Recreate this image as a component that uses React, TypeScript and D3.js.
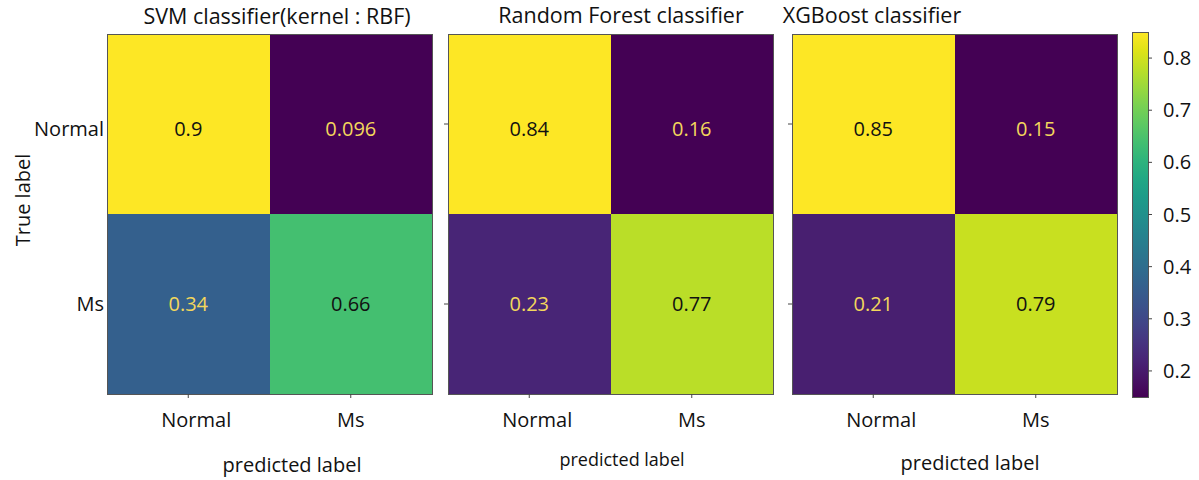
import React from "react";
import * as d3 from "d3";

// Confusion matrices (row = true label, column = predicted label)
const classes = ["Normal", "Ms"];
const modelTitles = ["SVM classifier(kernel : RBF)", "Random Forest classifier", "XGBoost classifier"];
const svmValues = [
  [0.9, 0.096],
  [0.34, 0.66],
];
const rfValues = [
  [0.84, 0.16],
  [0.23, 0.77],
];
const xgbValues = [
  [0.85, 0.15],
  [0.21, 0.79],
];
const colorbarTicks = [0.2, 0.3, 0.4, 0.5, 0.6, 0.7, 0.8];
const xAxisTitle = "predicted label";
const yAxisTitle = "True label";

const matrices = [svmValues, rfValues, xgbValues];

// Layout
const W = 1199;
const H = 480;
const panelLeft = [107, 448, 792];
const panelW = 325;
const top = 34;
const panelH = 360;
const titleX = [277, 621, 872];
const titleY = [24, 23, 23];
const titleSize = 21.5;
const xTitleX = [292, 622, 970];
const xTitleY = [472, 466, 470];
const xTitleSize = [20, 18, 20];
const font = "'Open Sans', 'Noto Sans', sans-serif";
const cb = { x: 1132, w: 16, top: 32, bottom: 397 };

function Panel({ idx }: { idx: number }) {
  const values = matrices[idx];
  const flat = values.flat();
  const color = d3
    .scaleSequential(d3.interpolateViridis)
    .domain([d3.min(flat) as number, d3.max(flat) as number]);
  const x0 = panelLeft[idx];
  const xs = d3.scaleBand<string>().domain(classes).range([x0, x0 + panelW]);
  const ys = d3.scaleBand<string>().domain(classes).range([top, top + panelH]);
  const [lo, hi] = color.domain();
  const mid = (lo + hi) / 2;
  // the upper row's text sits a little below the cell centre
  const rowShift = [5, 0];

  return (
    <g>
      {classes.map((tr, i) =>
        classes.map((pr, j) => {
          const v = values[i][j];
          return (
            <g key={`${i}-${j}`}>
              <rect
                x={xs(pr)}
                y={ys(tr)}
                width={xs.bandwidth()}
                height={ys.bandwidth()}
                fill={color(v)}
                shapeRendering="crispEdges"
              />
              <text
                x={(xs(pr) as number) + xs.bandwidth() / 2}
                y={(ys(tr) as number) + ys.bandwidth() / 2 + rowShift[i]}
                dy="0.35em"
                textAnchor="middle"
                fontFamily={font}
                fontSize={20}
                fill={v < mid ? "#f3d75c" : "#111"}
              >
                {String(v)}
              </text>
            </g>
          );
        })
      )}
      <rect
        x={x0}
        y={top}
        width={panelW}
        height={panelH}
        fill="none"
        stroke="#555"
        strokeWidth={1}
        shapeRendering="crispEdges"
      />
      {/* x ticks */}
      {classes.map((c) => {
        const cx = (xs(c) as number) + xs.bandwidth() / 2;
        return (
          <g key={"xt" + c}>
            <line x1={cx} x2={cx} y1={top + panelH} y2={top + panelH + 4} stroke="#444" />
            <text
              x={cx + (c === "Normal" ? 8 : 0)}
              y={top + panelH + 33}
              textAnchor="middle"
              fontFamily={font}
              fontSize={20}
              fill="#111"
            >
              {c}
            </text>
          </g>
        );
      })}
      {/* y ticks */}
      {classes.map((c, i) => {
        const cy = (ys(c) as number) + ys.bandwidth() / 2 + rowShift[i];
        return (
          <g key={"yt" + c}>
            {idx > 0 && (
              <line x1={x0 - 4} x2={x0} y1={cy - rowShift[i]} y2={cy - rowShift[i]} stroke="#444" />
            )}
            {idx === 0 && (
              <text
                x={x0 - 3}
                y={cy}
                dy="0.35em"
                textAnchor="end"
                fontFamily={font}
                fontSize={20}
                fill="#111"
              >
                {c}
              </text>
            )}
          </g>
        );
      })}
      <text
        x={titleX[idx]}
        y={titleY[idx]}
        textAnchor="middle"
        fontFamily={font}
        fontSize={titleSize}
        fill="#111"
      >
        {modelTitles[idx]}
      </text>
      <text
        x={xTitleX[idx]}
        y={xTitleY[idx]}
        textAnchor="middle"
        fontFamily={font}
        fontSize={xTitleSize[idx]}
        fill="#111"
      >
        {xAxisTitle}
      </text>
    </g>
  );
}

function Colorbar() {
  const flat = xgbValues.flat();
  const domain: [number, number] = [d3.min(flat) as number, d3.max(flat) as number];
  const y = d3.scaleLinear().domain(domain).range([cb.bottom, cb.top]);
  const stops = d3.range(0, 1.0001, 0.05);
  return (
    <g>
      <defs>
        <linearGradient id="cbgrad" x1="0" y1="1" x2="0" y2="0">
          {stops.map((t) => (
            <stop key={t} offset={`${t * 100}%`} stopColor={d3.interpolateViridis(t)} />
          ))}
        </linearGradient>
      </defs>
      <rect
        x={cb.x}
        y={cb.top}
        width={cb.w}
        height={cb.bottom - cb.top}
        fill="url(#cbgrad)"
        stroke="#555"
        strokeWidth={1}
        shapeRendering="crispEdges"
      />
      {colorbarTicks.map((t) => (
        <g key={t}>
          <line
            x1={cb.x + cb.w}
            x2={cb.x + cb.w + 4}
            y1={y(t)}
            y2={y(t)}
            stroke="#444"
          />
          <text
            x={cb.x + cb.w + 15}
            y={y(t)}
            dy="0.35em"
            fontFamily={font}
            fontSize={20}
            fill="#111"
          >
            {t.toFixed(1)}
          </text>
        </g>
      ))}
    </g>
  );
}

export default function App() {
  return (
    <svg
      width={W}
      height={H}
      style={{ position: "absolute", left: 0, top: 0, background: "#fff" }}
    >
      <rect x={0} y={0} width={W} height={H} fill="#fff" />
      {matrices.map((_, i) => (
        <Panel key={i} idx={i} />
      ))}
      <Colorbar />
      <text
        transform={`translate(30,${200}) rotate(-90)`}
        textAnchor="middle"
        fontFamily={font}
        fontSize={20}
        fill="#111"
      >
        {yAxisTitle}
      </text>
    </svg>
  );
}
